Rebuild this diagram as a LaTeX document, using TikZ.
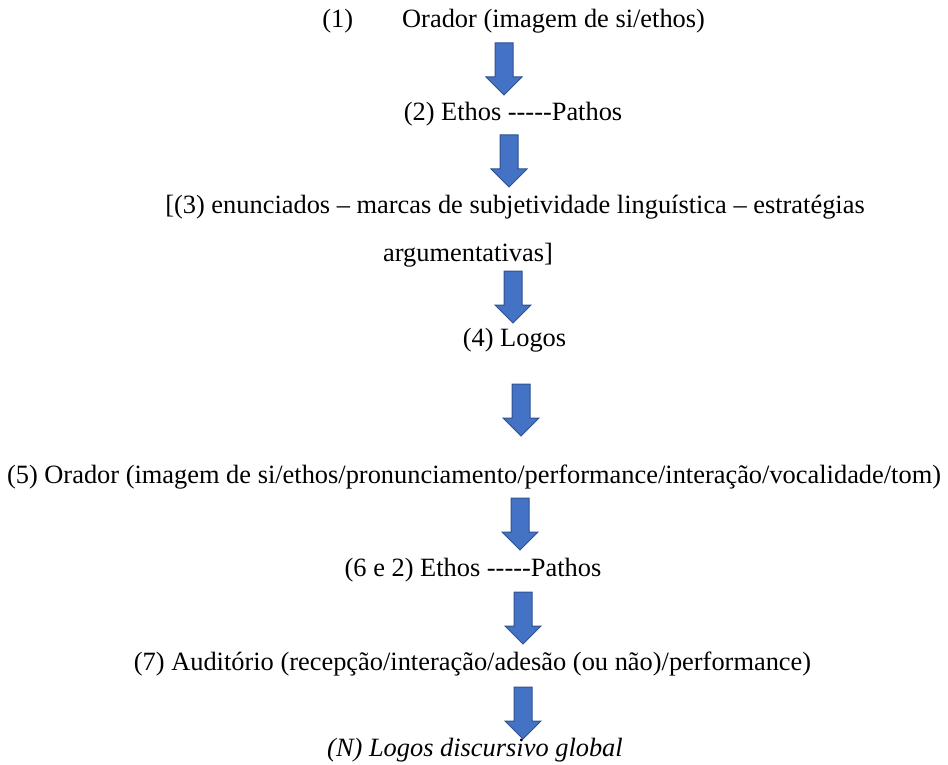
\documentclass[tikz,border=0pt]{standalone}
\usepackage{fontspec}
\setmainfont{Liberation Serif}
\usepackage{xcolor}
\definecolor{arrowblue}{HTML}{4472C4}
\definecolor{arrowedge}{HTML}{2F528F}
\tikzset{
  stage/.style={anchor=base, inner sep=0pt, font=\fontsize{13.2}{16}\selectfont},
  blockarrow/.pic={
    \filldraw[fill=arrowblue, draw=arrowedge, line width=0.5pt]
      (-9,0) -- (9,0) -- (9,34) -- (18,34) -- (0,52) -- (-18,34) -- (-9,34) -- cycle;
  }
}
\begin{document}
\begin{tikzpicture}[x=0.5pt, y=-0.5pt]
            \useasboundingbox (0,0) rectangle (948,765);
            \node[stage, anchor=base west] (orador) at (322,27.5) {(1)\hspace{24.5pt}Orador (imagem de si/ethos)};
            \node[stage] (ethos) at (513,121) {(2) Ethos {-}{-}{-}{-}{-}Pathos};
            \node[stage] (enunciados) at (515,213.5) {[(3) enunciados – marcas de subjetividade linguística – estratégias};
            \node[stage] (argumentativas) at (468,261) {argumentativas]};
            \node[stage] (logos) at (514.5,346.7) {(4) Logos};
            \node[stage] (orador2) at (474,483) {(5) Orador (imagem de si/ethos/pronunciamento/performance/interação/vocalidade/tom)};
            \node[stage] (ethos2) at (473,576.7) {(6 e 2) Ethos {-}{-}{-}{-}{-}Pathos};
            \node[stage] (auditorio) at (472.5,670.5) {(7) Auditório (recepção/interação/adesão (ou não)/performance)};
            \node[stage, font=\fontsize{13.2}{16}\selectfont\itshape] (global) at (475,756.5) {(N) Logos discursivo global};
            
            \pic at (504,43) {blockarrow};
            \pic at (509,135) {blockarrow};
            \pic at (513,271) {blockarrow};
            \pic at (521,384) {blockarrow};
            \pic at (520,498) {blockarrow};
            \pic at (523,592) {blockarrow};
            \pic at (523,687) {blockarrow};
        \end{tikzpicture}
\end{document}
